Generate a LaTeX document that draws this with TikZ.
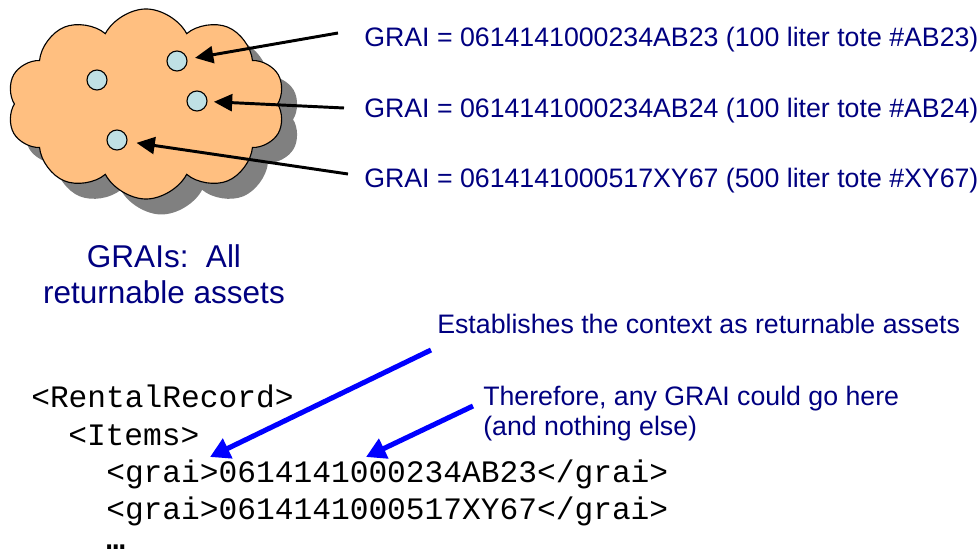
\documentclass[tikz,border=0pt]{standalone}
\usepackage{fontspec}
\setmainfont{Liberation Sans}
\setmonofont{Liberation Mono}
\usetikzlibrary{shapes.symbols, shadows, arrows.meta, calc}
\definecolor{cloudorange}{HTML}{FFBF80}
\definecolor{dotcyan}{HTML}{BFE1E4}
\definecolor{labelnavy}{HTML}{000080}
\definecolor{shadowgray}{HTML}{808080}

\begin{document}
\begin{tikzpicture}[x=0.025cm, y=-0.025cm,
            assetcloud/.style={cloud, cloud puffs=10, cloud puff arc=125, aspect=1.42, draw=black, thick, fill=cloudorange, minimum width=6.95cm, minimum height=4.75cm, drop shadow={shadow xshift=11pt, shadow yshift=-11pt, fill=shadowgray, opacity=1}},
            asset/.style={circle, draw=black, thick, fill=dotcyan, minimum size=0.5cm, inner sep=0pt},
            grailabel/.style={font=\fontsize{19}{21.5}\selectfont, text=labelnavy, inner sep=0pt, anchor=base west},
            codeline/.style={font=\ttfamily\fontsize{22.2}{26}\selectfont, inner sep=0pt, anchor=base west},
            pointer/.style={-{Triangle[length=13pt, width=12pt]}, line width=2.1pt, black},
            bluepointer/.style={-{Triangle[length=14pt, width=15pt]}, line width=3.6pt, blue}
        ]
            \useasboundingbox (0,0) rectangle (979,556);

% Cloud of returnable assets
            \node[assetcloud] (pool) at (146,104) {};
            \node[asset] (tote_ab23) at (177,61) {};
            \node[asset] (tote_other) at (97,80) {};
            \node[asset] (tote_ab24) at (197,101) {};
            \node[asset] (tote_xy67) at (117,140) {};
            \node[font=\fontsize{22.4}{25.6}\selectfont, text=labelnavy, align=center] (grais) at (164,274) {GRAIs:~~All\\returnable assets};

% GRAI values
            \node[grailabel] (grai_ab23) at (364,47) {GRAI = 0614141000234AB23 (100 liter tote \#AB23)};
            \node[grailabel] (grai_ab24) at (364,118) {GRAI = 0614141000234AB24 (100 liter tote \#AB24)};
            \node[grailabel] (grai_xy67) at (364,188) {GRAI = 0614141000517XY67 (500 liter tote \#XY67)};
            \coordinate (from_ab23) at (338,33);
            \coordinate (from_ab24) at (344,108);
            \coordinate (from_xy67) at (348,174);
            \draw[pointer, shorten >=5.5pt] (from_ab23) -- (tote_ab23);
            \draw[pointer, shorten >=4.5pt] (from_ab24) -- (tote_ab24);
            \draw[pointer, shorten >=6.5pt] (from_xy67) -- (tote_xy67);

% XML fragment
            \node[codeline] (rental) at (31,408) {<RentalRecord>};
            \node[codeline] (items) at (68,445) {<Items>};
            \node[codeline] (grai_one) at (106,482) {<grai>0614141000234AB23</grai>};
            \node[codeline] (grai_two) at (106,519) {<grai>0614141000517XY67</grai>};
            \node[codeline] (more) at (106,549) {\textbf{…}};

% Notes on the XML
            \node[grailabel] (context) at (437,334) {Establishes the context as returnable assets};
            \node[grailabel, align=left, anchor=north west] (anygrai) at (483,386) {Therefore, any GRAI could go here\\(and nothing else)};
            \coordinate (context_from) at (431,350);
            \coordinate (context_to) at (210,457);
            \coordinate (any_from) at (473,406);
            \coordinate (any_to) at (366,457);
            \draw[bluepointer] (context_from) -- (context_to);
            \draw[bluepointer] (any_from) -- (any_to);

        \end{tikzpicture}
\end{document}
